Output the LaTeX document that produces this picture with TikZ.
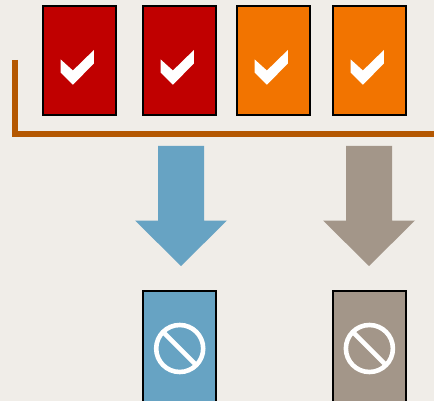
\documentclass[tikz,border=0pt]{standalone}
\definecolor{bgc}{HTML}{F0EDE8}
\definecolor{redc}{HTML}{C00000}
\definecolor{orangec}{HTML}{F27400}
\definecolor{bluec}{HTML}{67A3C3}
\definecolor{tanc}{HTML}{A39689}
\definecolor{brownc}{HTML}{B45700}
\tikzset{
  card/.style={draw=black,line width=2pt,minimum width=73pt,minimum height=109pt,inner sep=0pt,outer sep=0pt,anchor=north west},
  bracket/.style={draw=brownc,line width=6pt,line join=miter},
  nosign/.style={draw=white,line width=4.6pt},
}
\newcommand{\tickmark}[1]{\fill[white,shift={(#1.north west)}] (18,53) -- (30.2,64) -- (51.2,43.5) -- (51.2,57) -- (30.2,78.2) -- (18,66.2) -- cycle;}
\newcommand{\nomark}[1]{\draw[nosign] (#1.north west) ++(36.7,58) circle[radius=23.5];
  \draw[nosign,shift={(#1.north west)}] (36.7,58) ++(-16.6,-16.6) -- ++(33.2,33.2);}
\newcommand{\downarrowshape}[2]{\fill[#2,shift={(#1,0)}] (-23,146) -- (23,146) -- (23,220.5) -- (46,220.5) -- (0,266) -- (-46,220.5) -- (-23,220.5) -- cycle;}
\begin{document}
\begin{tikzpicture}[x=1pt,y=-1pt]
\clip (0,0) rectangle (434,401);
\fill[bgc] (0,0) rectangle (434,401);
\node[card,fill=redc] (c1) at (42.7,6.5) {};
\node[card,fill=redc] (c2) at (142.7,6.5) {};
\node[card,fill=orangec] (c3) at (236.7,6.5) {};
\node[card,fill=orangec] (c4) at (332.7,6.5) {};
\tickmark{c1}
\tickmark{c2}
\tickmark{c3}
\tickmark{c4}
\draw[bracket] (14.7,60) -- (14.7,133.7) -- (434,133.7);
\downarrowshape{181}{bluec}
\downarrowshape{369}{tanc}
\node[card,fill=bluec,minimum height=130pt] (b1) at (143,290.5) {};
\node[card,fill=tanc,minimum height=130pt] (b2) at (332.7,290.5) {};
\nomark{b1}
\nomark{b2}
\end{tikzpicture}
\end{document}
